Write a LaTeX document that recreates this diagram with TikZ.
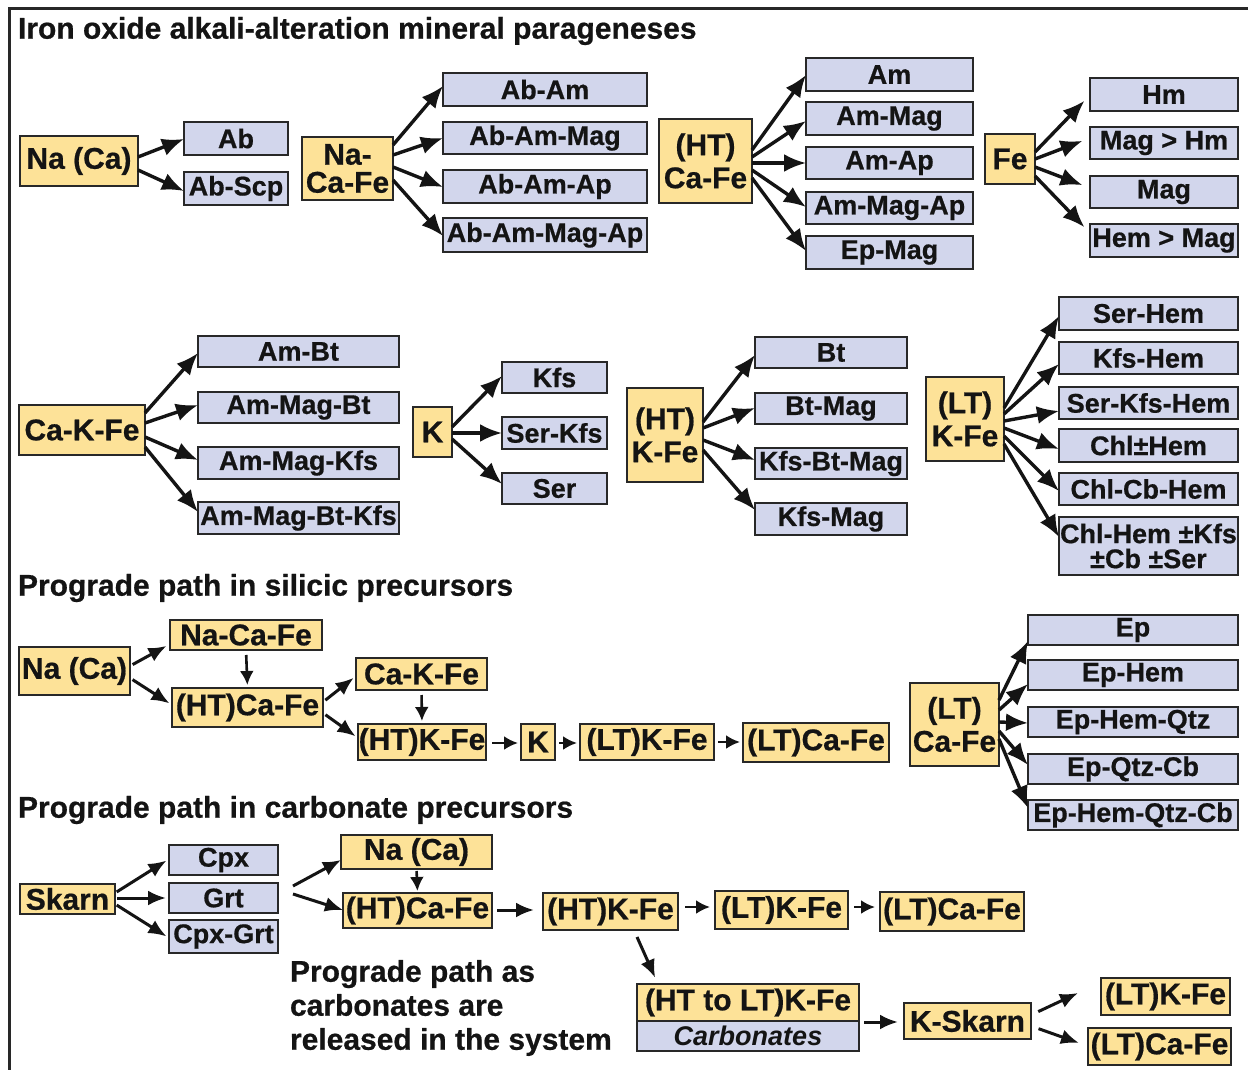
\documentclass[tikz,border=0pt]{standalone}
\usepackage{fontspec}
\setmainfont{Liberation Sans}[BoldFeatures={FakeBold=0.6}]
\usetikzlibrary{arrows.meta,calc}
\definecolor{ochre}{RGB}{253,226,152}
\definecolor{lilac}{RGB}{210,214,236}
\definecolor{edge}{RGB}{40,40,40}
\definecolor{ink}{RGB}{20,20,20}

\tikzset{
  every node/.style={inner sep=0pt, outer sep=0pt, text=ink},
  fluid/.style={draw=edge, line width=2pt, fill=ochre, align=center,
    font=\bfseries\fontsize{30}{33}\selectfont},
  phase/.style={draw=edge, line width=2pt, fill=lilac, align=center,
    font=\bfseries\fontsize{27}{25}\selectfont},
  heading/.style={anchor=west, font=\bfseries\fontsize{30}{34}\selectfont},
  arr/.style={line width=3.4pt, draw=ink, -{Latex[length=22pt,width=18pt]}},
  marr/.style={line width=3pt, draw=ink, -{Latex[length=18pt,width=15pt]}},
  sarr/.style={line width=2.6pt, draw=ink, -{Latex[length=14pt,width=14pt]}},
}

% box from its corners (x1,y1)-(x2,y2) in picture units
\newcommand\bx[7]{%
  \pgfmathsetmacro\bxw{#5-#3}\pgfmathsetmacro\bxh{#6-#4}%
  \node[#1, minimum width=\bxw pt, minimum height=\bxh pt] (#2) at ({(#3+#5)/2},{(#4+#6)/2}) {#7};}

\begin{document}
\begin{tikzpicture}[x=1pt, y=-1pt]
\useasboundingbox (0,0) rectangle (1248,1070);
\fill[white] (0,0) rectangle (1248,1070);
\draw[line width=3pt, edge] (9,1070) -- (9,9) -- (1248,9);

% ---------- mineral parageneses ----------
\node[heading] (t1) at (18,31) {Iron oxide alkali-alteration mineral parageneses};

\bx{fluid}{na1}{20}{136}{138}{186}{Na (Ca)}
\bx{phase}{ab}{184}{122}{288}{155}{Ab}
\bx{phase}{abscp}{184}{172}{288}{205}{Ab-Scp}
\bx{fluid}{ncf1}{302}{137}{393}{200}{Na-\\[-5pt]Ca-Fe}
\bx{phase}{abam}{443}{73}{647}{106}{Ab-Am}
\bx{phase}{abammag}{443}{122}{647}{154}{Ab-Am-Mag}
\bx{phase}{abamap}{443}{170}{647}{203}{Ab-Am-Ap}
\bx{phase}{abammagap}{443}{218}{647}{252}{Ab-Am-Mag-Ap}
\bx{fluid}{htcf1}{659}{119}{752}{203}{(HT)\\Ca-Fe}
\bx{phase}{am}{806}{58}{973}{91}{Am}
\bx{phase}{ammag}{806}{102}{973}{135}{Am-Mag}
\bx{phase}{amap}{806}{147}{973}{179}{Am-Ap}
\bx{phase}{ammagap}{806}{192}{973}{224}{Am-Mag-Ap}
\bx{phase}{epmag}{806}{236}{973}{269}{Ep-Mag}
\bx{fluid}{fe}{985}{134}{1035}{184}{Fe}
\bx{phase}{hm}{1090}{78}{1238}{111}{Hm}
\bx{phase}{maghm}{1090}{127}{1238}{159}{Mag > Hm}
\bx{phase}{mag}{1090}{176}{1238}{208}{Mag}
\bx{phase}{hemmag}{1090}{224}{1238}{257}{Hem > Mag}

\draw[arr] (na1.east |- 0,157) -- (ab.west |- 0,139);
\draw[arr] (na1.east |- 0,170) -- (abscp.west |- 0,191);
\draw[arr] (ncf1.east |- 0,145) -- (abam.west |- 0,86);
\draw[arr] (ncf1.east |- 0,155) -- (abammag.west |- 0,138);
\draw[arr] (ncf1.east |- 0,167) -- (abamap.west |- 0,187);
\draw[arr] (ncf1.east |- 0,180) -- (abammagap.west |- 0,236);
\draw[arr] (htcf1.east |- 0,150) -- (am.west |- 0,75);
\draw[arr] (htcf1.east |- 0,157) -- (ammag.west |- 0,121);
\draw[arr] (htcf1.east |- 0,163) -- (amap.west |- 0,163);
\draw[arr] (htcf1.east |- 0,170) -- (ammagap.west |- 0,207);
\draw[arr] (htcf1.east |- 0,178) -- (epmag.west |- 0,251);
\draw[arr, shorten >=8pt] (fe.east |- 0,152) -- (hm.west |- 0,95);
\draw[arr, shorten >=8pt] (fe.east |- 0,159) -- (maghm.west |- 0,138);
\draw[arr, shorten >=8pt] (fe.east |- 0,167) -- (mag.west |- 0,188);
\draw[arr, shorten >=8pt] (fe.east |- 0,176) -- (hemmag.west |- 0,233);

% ---------- second group ----------
\bx{fluid}{ckf2}{19}{405}{145}{455}{Ca-K-Fe}
\bx{phase}{ambt}{198}{336}{399}{367}{Am-Bt}
\bx{phase}{ammagbt}{198}{392}{399}{423}{Am-Mag-Bt}
\bx{phase}{ammagkfs}{198}{447}{399}{479}{Am-Mag-Kfs}
\bx{phase}{ammagbtkfs}{198}{502}{399}{534}{Am-Mag-Bt-Kfs}
\bx{fluid}{k2}{413}{407}{452}{457}{K}
\bx{phase}{kfs}{502}{362}{607}{393}{Kfs}
\bx{phase}{serkfs}{502}{417}{607}{449}{Ser-Kfs}
\bx{phase}{ser}{502}{473}{607}{504}{Ser}
\bx{fluid}{htk2}{627}{388}{703}{482}{(HT)\\K-Fe}
\bx{phase}{bt}{755}{337}{907}{368}{Bt}
\bx{phase}{btmag}{755}{393}{907}{424}{Bt-Mag}
\bx{phase}{kfsbtmag}{755}{448}{907}{479}{Kfs-Bt-Mag}
\bx{phase}{kfsmag}{755}{503}{907}{535}{Kfs-Mag}
\bx{fluid}{ltk2}{926}{377}{1004}{461}{(LT)\\K-Fe}
\bx{phase}{serhem}{1059}{297}{1238}{330}{Ser-Hem}
\bx{phase}{kfshem}{1059}{342}{1238}{374}{Kfs-Hem}
\bx{phase}{serkfshem}{1059}{387}{1238}{419}{Ser-Kfs-Hem}
\bx{phase}{chlhem}{1059}{429}{1238}{462}{Chl±Hem}
\bx{phase}{chlcbhem}{1059}{473}{1238}{505}{Chl-Cb-Hem}
\bx{phase}{chlhemx}{1059}{517}{1238}{575}{Chl-Hem ±Kfs\\±Cb ±Ser}

\draw[arr] (ckf2.east |- 0,413) -- (ambt.west |- 0,353);
\draw[arr] (ckf2.east |- 0,423) -- (ammagbt.west |- 0,405);
\draw[arr] (ckf2.east |- 0,437) -- (ammagkfs.west |- 0,460);
\draw[arr] (ckf2.east |- 0,447) -- (ammagbtkfs.west |- 0,512);
\draw[arr] (k2.east |- 0,427) -- (kfs.west |- 0,376);
\draw[arr] (k2.east |- 0,433) -- (serkfs.west |- 0,433);
\draw[arr] (k2.east |- 0,439) -- (ser.west |- 0,484);
\draw[arr] (htk2.east |- 0,422) -- (bt.west |- 0,355);
\draw[arr] (htk2.east |- 0,428) -- (btmag.west |- 0,408);
\draw[arr] (htk2.east |- 0,440) -- (kfsbtmag.west |- 0,460);
\draw[arr] (htk2.east |- 0,450) -- (kfsmag.west |- 0,510);
\draw[arr] (ltk2.east |- 0,408) -- (serhem.west |- 0,316);
\draw[arr] (ltk2.east |- 0,414) -- (kfshem.west |- 0,364);
\draw[arr] (ltk2.east |- 0,421) -- (serkfshem.west |- 0,411);
\draw[arr] (ltk2.east |- 0,428) -- (chlhem.west |- 0,449);
\draw[arr] (ltk2.east |- 0,436) -- (chlcbhem.west |- 0,491);
\draw[arr] (ltk2.east |- 0,444) -- (chlhemx.west |- 0,537);

% ---------- silicic precursors ----------
\node[heading] (t2) at (18,588) {Prograde path in silicic precursors};

\bx{fluid}{na3}{19}{647}{130}{695}{Na (Ca)}
\bx{fluid}{ncf3}{170}{620}{322}{650}{Na-Ca-Fe}
\bx{fluid}{htcf3}{172}{688}{323}{727}{(HT)Ca-Fe}
\bx{fluid}{ckf3}{356}{658}{487}{690}{Ca-K-Fe}
\bx{fluid}{htk3}{358}{724}{486}{760}{(HT)K-Fe}
\bx{fluid}{k3}{521}{724}{555}{760}{K}
\bx{fluid}{ltk3}{580}{724}{714}{760}{(LT)K-Fe}
\bx{fluid}{ltc3}{743}{723}{889}{762}{(LT)Ca-Fe}
\bx{fluid}{ltcf3}{910}{683}{999}{766}{(LT)\\Ca-Fe}
\bx{phase}{ep}{1028}{615}{1238}{645}{Ep}
\bx{phase}{ephem}{1028}{660}{1238}{690}{Ep-Hem}
\bx{phase}{ephemqtz}{1028}{707}{1238}{737}{Ep-Hem-Qtz}
\bx{phase}{epqtzcb}{1028}{754}{1238}{784}{Ep-Qtz-Cb}
\bx{phase}{ephemqtzcb}{1028}{800}{1238}{830}{Ep-Hem-Qtz-Cb}

\draw[marr, shorten <=3pt, shorten >=4pt] (na3.east |- 0,666) -- (ncf3.west |- 0,644);
\draw[marr, shorten <=3pt, shorten >=3pt] (na3.east |- 0,678) -- (htcf3.west |- 0,705);
\draw[sarr, shorten <=5pt, shorten >=3pt] (ncf3.south) -- (htcf3.north);
\draw[marr, shorten <=3pt, shorten >=3pt] (htcf3.east |- 0,702) -- (ckf3.west |- 0,676);
\draw[marr, shorten <=3pt, shorten >=3pt] (htcf3.east |- 0,713) -- (htk3.west |- 0,738);
\draw[sarr, shorten <=5pt, shorten >=3pt] (ckf3.south) -- (htk3.north);
\draw[sarr, shorten <=6pt, shorten >=3pt] (htk3.east |- 0,743) -- (k3.west |- 0,743);
\draw[sarr, shorten <=4pt, shorten >=3pt] (k3.east |- 0,743) -- (ltk3.west |- 0,743);
\draw[sarr, shorten <=4pt, shorten >=3pt] (ltk3.east |- 0,742) -- (ltc3.west |- 0,742);
\draw[arr] (ltcf3.east |- 0,700) -- (ep.west |- 0,641);
\draw[arr] (ltcf3.east |- 0,710) -- (ephem.west |- 0,684);
\draw[arr] (ltcf3.east |- 0,722) -- (ephemqtz.west |- 0,723);
\draw[arr] (ltcf3.east |- 0,731) -- (epqtzcb.west |- 0,765);
\draw[arr] (ltcf3.east |- 0,739) -- (ephemqtzcb.west |- 0,808);

% ---------- carbonate precursors ----------
\node[heading] (t3) at (18,810) {Prograde path in carbonate precursors};

\bx{fluid}{skarn}{20}{884}{115}{914}{Skarn}
\bx{phase}{cpx}{169}{845}{278}{875}{Cpx}
\bx{phase}{grt}{169}{883}{278}{913}{Grt}
\bx{phase}{cpxgrt}{169}{920}{278}{953}{Cpx-Grt}
\bx{fluid}{na4}{341}{835}{492}{869}{Na (Ca)}
\bx{fluid}{htcf4}{343}{893}{492}{928}{(HT)Ca-Fe}
\bx{fluid}{htk4}{543}{893}{678}{930}{(HT)K-Fe}
\bx{fluid}{ltk4}{715}{891}{848}{929}{(LT)K-Fe}
\bx{fluid}{ltc4}{880}{892}{1024}{931}{(LT)Ca-Fe}
\bx{fluid}{htlt}{637}{984}{859}{1021}{(HT to LT)K-Fe}
\bx{phase}{carb}{637}{1021}{859}{1051}{\itshape Carbonates}
\bx{fluid}{kskarn}{904}{1003}{1031}{1039}{K-Skarn}
\bx{fluid}{ltk5}{1101}{978}{1230}{1015}{(LT)K-Fe}
\bx{fluid}{ltc5}{1088}{1028}{1231}{1065}{(LT)Ca-Fe}
\node[anchor=north west, align=left, font=\bfseries\fontsize{30}{34}\selectfont]
  (note) at (290,960) {Prograde path as\\carbonates are\\released in the system};

\coordinate (c1) at (293,886);
\coordinate (c2) at (293,894);
\coordinate (c3) at (1078,993);
\coordinate (c4) at (1079,1043);

\draw[marr, shorten <=2pt, shorten >=3pt] (skarn.east |- 0,893) -- (cpx.west |- 0,859);
\draw[marr, shorten <=2pt, shorten >=3pt] (skarn.east |- 0,898) -- (grt.west |- 0,898);
\draw[marr, shorten <=2pt, shorten >=3pt] (skarn.east |- 0,904) -- (cpxgrt.west |- 0,938);
\draw[marr] (c1) -- (na4.west |- 0,860);
\draw[marr] (c2) -- (htcf4.west |- 0,910);
\draw[sarr, shorten <=2pt, shorten >=2pt] (na4.south) -- (htcf4.north);
\draw[marr, shorten <=5pt, shorten >=9pt] (htcf4.east |- 0,910) -- (htk4.west |- 0,910);
\draw[sarr, shorten <=7pt, shorten >=5pt] (htk4.east |- 0,907) -- (ltk4.west |- 0,907);
\draw[sarr, shorten <=6pt, shorten >=5pt] (ltk4.east |- 0,907) -- (ltc4.west |- 0,907);
\draw[marr, shorten >=7pt] ($(htk4.south west)+(94,7)$) -- (htlt.north -| 658,0);
\draw[marr, shorten <=5pt, shorten >=6pt] (htlt.east |- 0,1022) -- (kskarn.west |- 0,1022);
\draw[marr, shorten <=8pt] (kskarn.east |- 0,1015) -- (c3);
\draw[marr, shorten <=8pt] (kskarn.east |- 0,1026) -- (c4);
\end{tikzpicture}
\end{document}
